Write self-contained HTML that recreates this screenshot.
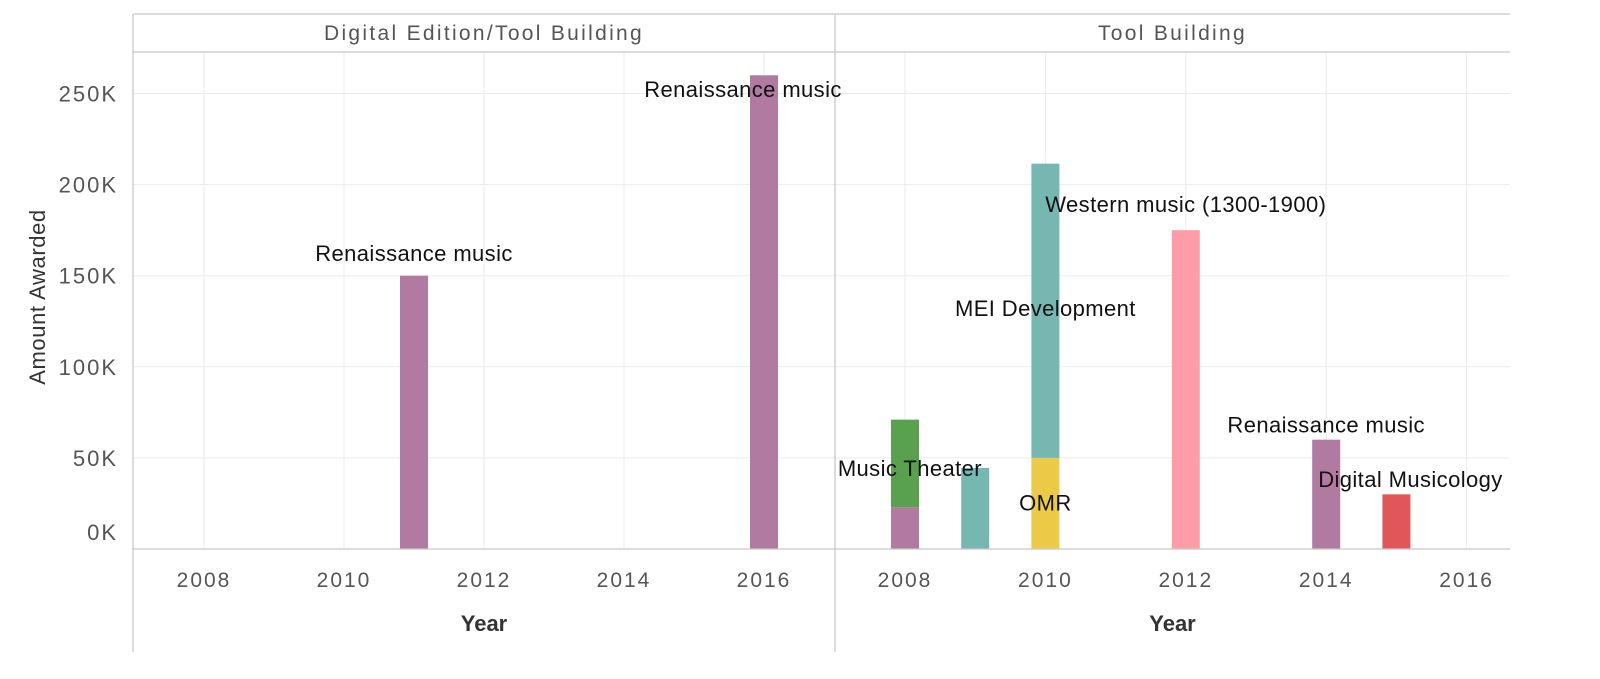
<!DOCTYPE html>
<html><head><meta charset="utf-8"><style>
body{margin:0;background:#fff;}
svg{display:block;font-family:"Liberation Sans",sans-serif;}
</style></head><body>
<svg id="c" width="1600" height="679"></svg>
<script>
const panels = ["Digital Edition/Tool Building","Tool Building"];
const xTicks = [2008,2010,2012,2014,2016];
const yTicks = [0,50000,100000,150000,200000,250000];
const yTickLabels = ["0K","50K","100K","150K","200K","250K"];
const segPanel = [0,0,1,1,1,1,1,1,1,1];
const segYear  = [2011,2016,2008,2008,2009,2010,2010,2012,2014,2015];
const segBase  = [0,0,0,23000,0,0,50000,0,0,0];
const segValue = [150000,260000,23000,48000,44500,50000,161500,175000,60000,30000];
const segColor = ["#b07aa1","#b07aa1","#b07aa1","#59a14f","#76b7b2","#edc948","#76b7b2","#ff9da7","#b07aa1","#e15759"];
const labText = ["Renaissance music","Renaissance music","Western music (1300-1900)","MEI Development","Renaissance music","Music Theater","Digital Musicology","OMR"];
const labPanel = [0,0,1,1,1,1,1,1];
const labYear = [2011,2015.7,2012,2010,2014,2008.07,2015.2,2010];
const labVal = [158000,248000,185000,128000,64000,40000,34000,21000];

const svg=document.getElementById('c');const NS='http://www.w3.org/2000/svg';
function mk(t,a,p){const e=document.createElementNS(NS,t);for(const k in a)e.setAttribute(k,a[k]);(p||svg).appendChild(e);return e;}
const px0=[204,905], pxPerYear=[70,70.2];
const x=(p,yr)=>px0[p]+(yr-2008)*pxPerYear[p];
const y=v=>549-v*0.001822;
const pLeft=[133,835], pRight=[835,1510];
for(let p=0;p<2;p++){
  yTicks.forEach((t,i)=>{if(i>0){const g=mk('line',{x1:pLeft[p],x2:pRight[p],y1:y(t),y2:y(t),stroke:'#ebebeb','stroke-width':1});
  }});
  xTicks.forEach(t=>{const g=mk('line',{x1:x(p,t),x2:x(p,t),y1:52,y2:549,stroke:'#ebebeb','stroke-width':1});
  
  const tl=mk('text',{x:x(p,t),y:587,'text-anchor':'middle','font-size':21,'letter-spacing':2,fill:'#555'});tl.textContent=t;
  });
  const h=mk('text',{x:(pLeft[p]+pRight[p])/2,y:40,'text-anchor':'middle','font-size':21,'letter-spacing':2.3,fill:'#555'});h.textContent=panels[p];
  
  const xt=mk('text',{x:(pLeft[p]+pRight[p])/2,y:631,'text-anchor':'middle','font-size':22,'font-weight':'bold',fill:'#333'});xt.textContent='Year';
  
}
yTicks.forEach((t,i)=>{const tl=mk('text',{x:118,y:y(t)+(i===0?-9:8),'text-anchor':'end','font-size':22,'letter-spacing':2,fill:'#555'});tl.textContent=yTickLabels[i];
});
const yt=mk('text',{x:0,y:0,transform:'translate(45,297) rotate(-90)','text-anchor':'middle','font-size':22,'letter-spacing':0.6,fill:'#333'});yt.textContent='Amount Awarded';

segYear.forEach((yr,i)=>{const p=segPanel[i];const cx=x(p,yr);
 const r=mk('rect',{x:cx-14,y:y(segBase[i]+segValue[i]),width:28,height:y(segBase[i])-y(segBase[i]+segValue[i]),fill:segColor[i]});
 });
[[133,14,133,652],[835,14,835,652],[133,52,1510,52],[133,549,1510,549],[133,14,1510,14]].forEach(l=>{
 const e=mk('line',{x1:l[0],y1:l[1],x2:l[2],y2:l[3],stroke:'#c8c8c8','stroke-width':1.3});
 });
labText.forEach((t,i)=>{const e=mk('text',{x:x(labPanel[i],labYear[i]),y:y(labVal[i]),'text-anchor':'middle','font-size':22,'letter-spacing':0.4,fill:'#111'});e.textContent=t;
 });
</script>
</body></html>
